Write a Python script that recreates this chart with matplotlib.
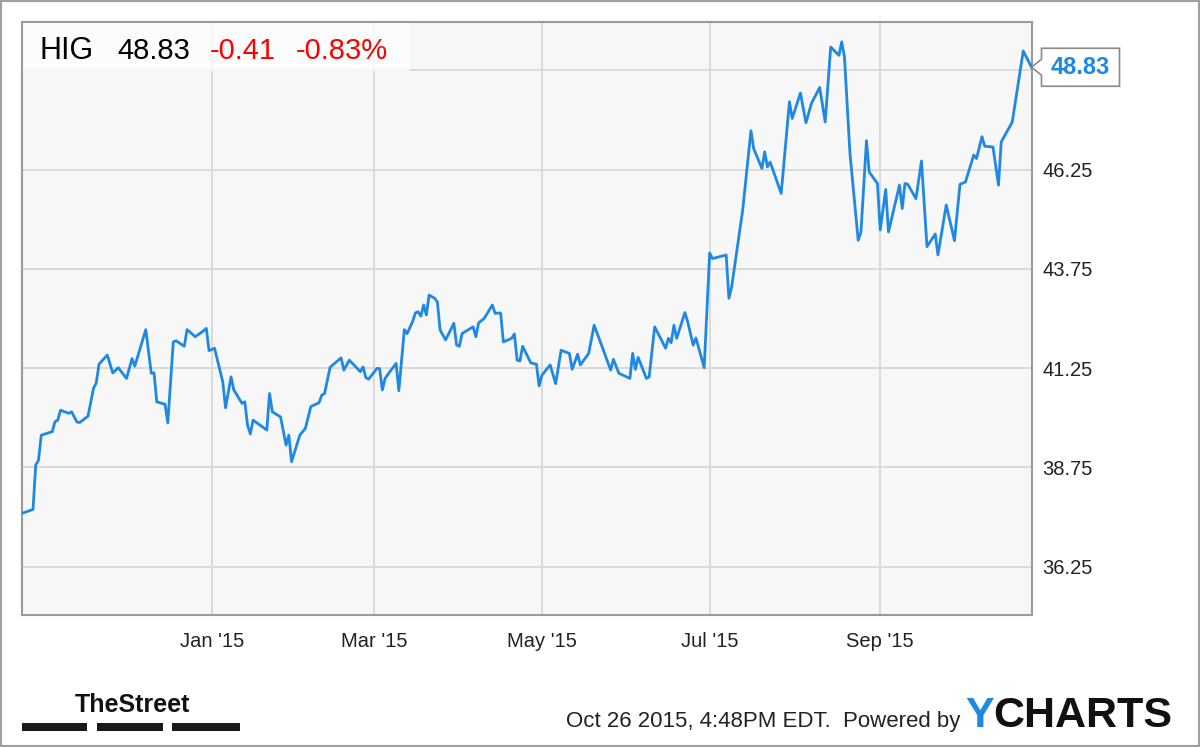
import pandas as pd
import matplotlib
matplotlib.use('Agg')
import matplotlib.pyplot as plt
from matplotlib.patches import Rectangle, Polygon
from matplotlib.transforms import Affine2D

plt.rcParams['font.family'] = ['Liberation Sans', 'DejaVu Sans']

# HIG daily close
dates = [
    '2014-10-24', '2014-10-28', '2014-10-29', '2014-10-30', '2014-10-31', '2014-11-04', '2014-11-05',
    '2014-11-06', '2014-11-07', '2014-11-10', '2014-11-11', '2014-11-13', '2014-11-14', '2014-11-17',
    '2014-11-19', '2014-11-20', '2014-11-21', '2014-11-24', '2014-11-26', '2014-11-28', '2014-12-01',
    '2014-12-03', '2014-12-04', '2014-12-08', '2014-12-10', '2014-12-11', '2014-12-12', '2014-12-15',
    '2014-12-16', '2014-12-18', '2014-12-19', '2014-12-22', '2014-12-23', '2014-12-26', '2014-12-29',
    '2014-12-30', '2014-12-31', '2015-01-02', '2015-01-05', '2015-01-06', '2015-01-08', '2015-01-09',
    '2015-01-12', '2015-01-13', '2015-01-14', '2015-01-15', '2015-01-16', '2015-01-21', '2015-01-22',
    '2015-01-23', '2015-01-26', '2015-01-28', '2015-01-29', '2015-01-30', '2015-02-02', '2015-02-04',
    '2015-02-06', '2015-02-09', '2015-02-10', '2015-02-11', '2015-02-13', '2015-02-17', '2015-02-18',
    '2015-02-20', '2015-02-24', '2015-02-25', '2015-02-26', '2015-02-27', '2015-03-02', '2015-03-03',
    '2015-03-04', '2015-03-05', '2015-03-06', '2015-03-09', '2015-03-10', '2015-03-12', '2015-03-13',
    '2015-03-15', '2015-03-16', '2015-03-17', '2015-03-18', '2015-03-19', '2015-03-20', '2015-03-21',
    '2015-03-23', '2015-03-24', '2015-03-25', '2015-03-27', '2015-03-30', '2015-03-31', '2015-04-01',
    '2015-04-02', '2015-04-06', '2015-04-07', '2015-04-08', '2015-04-10', '2015-04-13', '2015-04-14',
    '2015-04-16', '2015-04-17', '2015-04-20', '2015-04-21', '2015-04-22', '2015-04-23', '2015-04-24',
    '2015-04-27', '2015-04-29', '2015-04-30', '2015-05-01', '2015-05-04', '2015-05-06', '2015-05-08',
    '2015-05-11', '2015-05-12', '2015-05-14', '2015-05-15', '2015-05-18', '2015-05-20', '2015-05-22',
    '2015-05-26', '2015-05-27', '2015-05-29', '2015-06-02', '2015-06-03', '2015-06-04', '2015-06-05',
    '2015-06-08', '2015-06-09', '2015-06-11', '2015-06-15', '2015-06-16', '2015-06-17', '2015-06-18',
    '2015-06-19', '2015-06-22', '2015-06-23', '2015-06-25', '2015-06-26', '2015-06-29', '2015-07-01',
    '2015-07-02', '2015-07-07', '2015-07-08', '2015-07-09', '2015-07-13', '2015-07-16', '2015-07-17',
    '2015-07-20', '2015-07-21', '2015-07-22', '2015-07-23', '2015-07-27', '2015-07-30', '2015-07-31',
    '2015-08-03', '2015-08-05', '2015-08-07', '2015-08-10', '2015-08-12', '2015-08-14', '2015-08-17',
    '2015-08-18', '2015-08-19', '2015-08-21', '2015-08-24', '2015-08-25', '2015-08-27', '2015-08-28',
    '2015-08-31', '2015-09-01', '2015-09-03', '2015-09-04', '2015-09-08', '2015-09-09', '2015-09-10',
    '2015-09-11', '2015-09-14', '2015-09-16', '2015-09-18', '2015-09-21', '2015-09-22', '2015-09-25',
    '2015-09-28', '2015-09-30', '2015-10-02', '2015-10-05', '2015-10-06', '2015-10-08', '2015-10-09',
    '2015-10-12', '2015-10-14', '2015-10-15', '2015-10-19', '2015-10-23', '2015-10-26',
]
prices = [
    37.59, 37.69, 38.81, 38.93, 39.56, 39.65, 39.90,
    39.94, 40.19, 40.11, 40.15, 39.89, 39.88, 40.04,
    40.74, 40.88, 41.35, 41.58, 41.13, 41.26, 40.99,
    41.49, 41.30, 42.22, 41.12, 41.13, 40.40, 40.34,
    39.87, 41.91, 41.94, 41.80, 42.22, 42.04, 42.19,
    42.25, 41.69, 41.75, 40.90, 40.25, 41.03, 40.70,
    40.36, 40.40, 39.81, 39.59, 39.94, 39.69, 40.61,
    40.15, 40.02, 39.31, 39.56, 38.89, 39.56, 39.73,
    40.28, 40.38, 40.57, 40.61, 41.27, 41.51, 41.20,
    41.45, 41.16, 41.28, 41.01, 40.97, 41.24, 41.24,
    40.70, 40.99, 41.09, 41.37, 40.68, 42.22, 42.12,
    42.42, 42.64, 42.67, 42.56, 42.84, 42.59, 43.09,
    43.01, 42.92, 42.21, 41.96, 42.38, 41.83, 41.80,
    42.12, 42.29, 42.04, 42.39, 42.50, 42.84, 42.63,
    42.64, 41.91, 42.00, 42.11, 41.45, 41.43, 41.80,
    41.38, 41.35, 40.80, 41.07, 41.33, 40.86, 41.70,
    41.62, 41.22, 41.60, 41.33, 41.62, 42.33, 41.96,
    41.20, 41.47, 41.12, 40.99, 41.62, 41.22, 41.52,
    40.99, 41.03, 42.29, 41.75, 42.00, 41.89, 42.33,
    42.00, 42.65, 42.42, 41.83, 42.01, 41.26, 44.15,
    44.01, 44.10, 43.01, 43.30, 45.23, 47.23, 46.78,
    46.28, 46.70, 46.32, 46.44, 45.65, 47.96, 47.54,
    48.18, 47.43, 47.92, 48.32, 47.45, 49.34, 49.13,
    49.47, 49.09, 46.66, 44.47, 44.68, 46.98, 46.19,
    45.90, 44.73, 45.75, 44.68, 45.86, 45.27, 45.90,
    45.88, 45.52, 46.47, 44.31, 44.63, 44.10, 45.36,
    44.46, 45.88, 45.94, 46.62, 46.53, 47.08, 46.84,
    46.82, 45.86, 46.95, 47.45, 49.24, 48.83,
]

tick_dates = ['2015-01-01', '2015-03-01', '2015-05-01', '2015-07-01', '2015-09-01']
tick_labels = ["Jan '15", "Mar '15", "May '15", "Jul '15", "Sep '15"]
y_ticks = [36.25, 38.75, 41.25, 43.75, 46.25, 48.75]
# the top label sits under the last-price flag in the original
y_labels = ['36.25', '38.75', '41.25', '43.75', '46.25', '']

ticker, last, change, pct = 'HIG', '48.83', '-0.41', '-0.83%'
stamp = 'Oct 26 2015, 4:48PM EDT.  Powered by'

blue = '#1e88e5'
W, H = 1200, 747

x = pd.to_datetime(dates)

fig = plt.figure(figsize=(W / 100, H / 100), dpi=100)
ax = fig.add_axes([22 / W, 1 - 615 / H, (1031.5 - 22) / W, (615 - 22) / H])
ax.set_facecolor('#f7f7f7')

ax.plot(x, prices, color=blue, lw=2.0, zorder=3)

ax.set_xlim(pd.Timestamp('2014-10-24'), pd.Timestamp('2015-10-26'))
ax.set_ylim(35.03, 49.97)
ax.set_xticks(pd.to_datetime(tick_dates))
ax.set_xticklabels(tick_labels)
ax.set_yticks(y_ticks)
ax.set_yticklabels(y_labels)
ax.yaxis.tick_right()
ax.tick_params(length=0, labelsize=14.5, colors='#222222')
ax.tick_params(axis='x', pad=12)
ax.tick_params(axis='y', pad=8)
ax.grid(True, color='#dadada', lw=1.4)
ax.set_axisbelow(True)
for s in ax.spines.values():
    s.set_color('#9a9a9a')
    s.set_linewidth(1.5)

# header strip
ax.add_patch(Rectangle((0, 1 - 49 / 593), 388 / 1009.5, 49 / 593, transform=ax.transAxes,
                       fc='white', ec='none', alpha=0.75, zorder=2.5))
hy = 1 - 59 / H
fig.text(40 / W, hy, ticker, fontsize=22, color='black', va='baseline')
fig.text(117 / W, hy, last, fontsize=21, color='black', va='baseline')
fig.text(210 / W, hy, change, fontsize=21, color='#ff0000', va='baseline')
fig.text(296 / W, hy, pct, fontsize=21, color='#ff0000', va='baseline')

# last price flag
tip = ax.transData.transform((ax.convert_xunits(x[-1]), prices[-1]))
flag = [(0, 0), (10, 8), (10, 19), (88, 19), (88, -19), (10, -19), (10, -8)]
ax.add_patch(Polygon(flag, closed=True, fc='white', ec='#8a8a8a', lw=1.2,
                     transform=Affine2D().translate(*tip), clip_on=False, zorder=6))
ax.annotate(last, xy=(x[-1], prices[-1]), xytext=(49, 0), textcoords='offset pixels',
            ha='center', va='center', fontsize=17, fontweight='bold', color=blue,
            annotation_clip=False, zorder=7)

# footer
fig.text(75 / W, 1 - 712 / H, 'TheStreet', fontsize=18, fontweight='bold',
         color='#111111', va='baseline')
for x0, x1 in [(22, 87), (97, 163), (172, 240)]:
    fig.add_artist(Rectangle((x0 / W, 1 - 731 / H), (x1 - x0) / W, 8 / H,
                             transform=fig.transFigure, fc='#1a1a1a', ec='none'))
fig.text(960 / W, 1 - 727 / H, stamp, fontsize=16, color='#222222', ha='right', va='baseline')
ty = fig.text(965 / W, 1 - 727 / H, 'Y', fontsize=31, fontweight='bold', color=blue, va='baseline')
fig.canvas.draw()
bb = ty.get_window_extent()
fig.text(bb.x1 / W, 1 - 727 / H, 'CHARTS', fontsize=31, fontweight='bold', color='#111111',
         va='baseline')

fig.add_artist(Rectangle((0, 0), 1, 1, transform=fig.transFigure, fill=False,
                         ec='#a0a0a0', lw=3))

fig.savefig('out.png', dpi=100)
